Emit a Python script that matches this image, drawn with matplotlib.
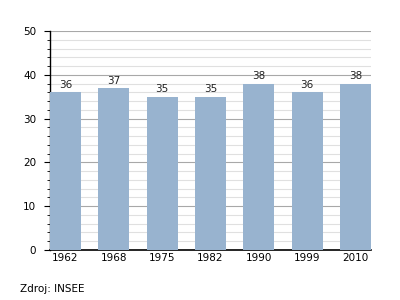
import matplotlib as mpl

mpl.use("Agg")

import matplotlib.pyplot as plt
from matplotlib.ticker import MultipleLocator

years = ["1962", "1968", "1975", "1982", "1990", "1999", "2010"]
values = [36, 37, 35, 35, 38, 36, 38]


def main() -> None:
    fig = plt.figure(figsize=(4, 3), dpi=100)
    ax = fig.add_axes([0.125, 0.1667, 0.8025, 0.73])

    x = range(len(years))
    ax.bar(x, values, width=0.64, color="#98b3cf", zorder=3)
    for xi, v in zip(x, values):
        ax.text(xi, v + 0.5, str(v), ha="center", va="bottom", fontsize=7.5, color="#222222", zorder=4)

    ax.set_xlim(-0.32, len(years) - 0.68)
    ax.set_ylim(0, 50)
    ax.set_xticks(list(x))
    ax.set_xticklabels(years)
    ax.yaxis.set_major_locator(MultipleLocator(10))
    ax.yaxis.set_minor_locator(MultipleLocator(2))

    ax.grid(axis="y", which="major", color="#a8a8a8", lw=0.8, zorder=1)
    ax.grid(axis="y", which="minor", color="#e0e0e0", lw=0.8, zorder=1)

    for side in ["top", "right"]:
        ax.spines[side].set_visible(False)
    ax.spines["left"].set_linewidth(1.0)
    ax.spines["bottom"].set_linewidth(1.2)

    ax.tick_params(axis="x", length=0, labelsize=7.5, pad=2)
    ax.tick_params(axis="y", which="major", length=4, labelsize=7.5, pad=6)
    ax.tick_params(axis="y", which="minor", length=2)

    fig.text(0.05, 0.035, "Zdroj: INSEE", fontsize=7.5, ha="left", va="center")

    fig.savefig("out.png", dpi=100)


if __name__ == "__main__":
    main()
